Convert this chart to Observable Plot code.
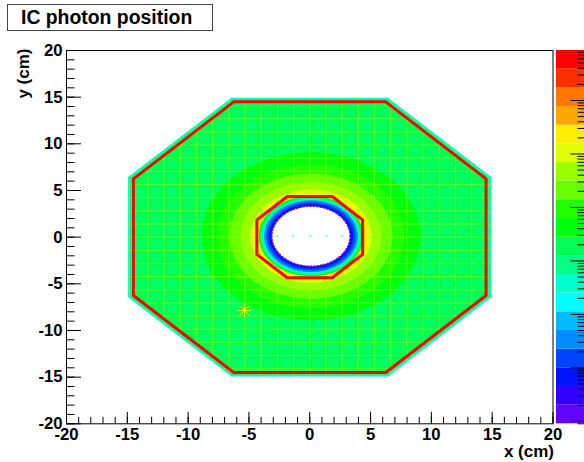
<!DOCTYPE html>
<html>
<head>
<meta charset="utf-8">
<script src="https://cdn.jsdelivr.net/npm/d3@7"></script>
<script src="https://cdn.jsdelivr.net/npm/@observablehq/plot@0.6"></script>
<style>
  html, body { margin: 0; padding: 0; background: #fff; }
  #wrap { position: relative; width: 584px; height: 462px; overflow: hidden;
          font-family: "Liberation Sans", Arial, Helvetica, sans-serif; }
  #wrap > svg.main { position: absolute; left: 0; top: 0; }
  #wrap > svg.palette { position: absolute; left: 556px; top: 0; z-index: 1; }
  #title { position: absolute; left: 7px; top: 4px; width: 206px; height: 27px; z-index: 2;
           box-sizing: border-box; border: 1px solid #444; background: #fff;
           font-weight: bold; font-size: 19.4px; line-height: 24px; padding-left: 13px; white-space: nowrap; }
</style>
</head>
<body>
<div id="wrap"><div id="title">IC photon position</div></div>
<script>
// ---------- z palette: 20 log-spaced contour bands, violet (low) to red (high)
const zMin = 0.9, zMax = 8.6e6, nBands = 20;
const bandHues = [263.2, 252, 235.2, 224, 207.2, 196, 179.2, 168, 151.2, 140,
                  123.2, 112, 95.2, 84, 67.2, 56, 39.2, 28, 11.2, 0];

// ---------- detector outlines (cm)
const outerApothem = 14.5, outerHalfSide = 6.25;
const innerApothem = 4.35, innerHalfSide = 1.85;

// ---------- photon counts per bin
// outer rim, painted from the outside in: octagon scale and counts
const rimScale  = [1.03, 1.02, 1.01];
const rimCounts = [400, 850, 1900];

// crystal faces: counts along the face diagonals
const crystalDiagCounts = 850;

// halo around the beam hole, painted from the outside in: radius (cm) and counts
const haloRadius = [9.0, 7.7, 6.7, 5.8, 5.0, 4.55];
const haloCounts = [4200, 9300, 21000, 46000, 100000, 230000];

// steep fall-off towards the hole: radius (cm) and counts
const ringRadius = [4.3, 4.15, 4.0, 3.85, 3.65, 3.45];
const ringCounts = [4200, 850, 250, 50, 15, 4.5];
const holeRadius = 3.22;
const holeEdgeCounts = 1.2;
const holeCenter = [0.1, 0.1];

// crystal boundaries (cm) and their counts
const crystalPitchX = 1.33, crystalPitchY = 1.41;
const crystalEdgeCounts = 46000;

// hot crystal and sparse hits inside the hole
const hotSpotX = [-5.37], hotSpotY = [-7.86], hotSpotCounts = [100000];
const holeHitX = [-2.68, -1.37, 0.06, 1.37, 2.67];
const holeHitY = [0.1, 0.1, 0.1, 0.1, 0.1];
const holeHitCounts = [160, 160, 160, 160, 160];

// ---------- axis ticks
const xMajor = d3.range(-20, 21, 5), xMinor = d3.range(-20, 21, 1);
const yMajor = d3.range(-20, 21, 5), yMinor = d3.range(-20, 21, 1);

// ---------- derived shapes
const thresholds = d3.range(1, nBands).map(i => zMin * Math.pow(zMax / zMin, i / nBands));
const bandColors = bandHues.map(h => d3.hsl(h, 1, 0.5).formatHex());
const colorScale = {type: "threshold", domain: thresholds, range: bandColors};

function octagon(a, h, s = 1) {
  return [[h, a], [a, h], [a, -h], [h, -a], [-h, -a], [-a, -h], [-a, h], [-h, a]]
    .map(([x, y]) => ({x: x * s, y: y * s}));
}
function circle([cx, cy], r, n = 120) {
  return d3.range(n).map(i => {
    const t = 2 * Math.PI * i / n;
    return {x: cx + r * Math.cos(t), y: cy + r * Math.sin(t)};
  });
}
// crystal boundary segments inside the (scaled) outer octagon
const edgeA = outerApothem * rimScale[0], edgeH = outerHalfSide * rimScale[0];
const span = c => Math.abs(c) <= edgeH ? edgeA : edgeA + edgeH - Math.abs(c);
const inside = (x, y) => Math.abs(y) <= span(x);
const kx = Math.floor(edgeA / crystalPitchX), ky = Math.floor(edgeA / crystalPitchY);
const gridV = d3.range(-kx, kx + 1).map(k => k * crystalPitchX).map(c => ({x1: c, x2: c, y1: -span(c), y2: span(c)}));
const gridH = d3.range(-ky, ky + 1).map(k => k * crystalPitchY).map(c => ({y1: c, y2: c, x1: -span(c), x2: span(c)}));
// face diagonals of every crystal lying fully inside the outline
const diagonals = [];
for (let i = -kx; i < kx; ++i) for (let j = -ky; j < ky; ++j) {
  const xa = i * crystalPitchX, xb = xa + crystalPitchX, ya = j * crystalPitchY, yb = ya + crystalPitchY;
  if (![[xa, ya], [xa, yb], [xb, ya], [xb, yb]].every(([x, y]) => inside(x, y))) continue;
  const ix = 0.22 * crystalPitchX, iy = 0.22 * crystalPitchY;
  diagonals.push({x1: xa + ix, y1: ya + iy, x2: xb - ix, y2: yb - iy});
  diagonals.push({x1: xa + ix, y1: yb - iy, x2: xb - ix, y2: ya + iy});
}

const fillLayer = (pts, z) => Plot.line(pts, {x: "x", y: "y", fill: () => z, stroke: null, curve: "linear-closed"});

const W = 584, H = 462, mL = 66, mR = 31.5, mT = 50, mB = 38.7;
const frameW = W - mL - mR, frameH = H - mT - mB;

const chart = Plot.plot({
  width: W, height: H,
  marginLeft: mL, marginRight: mR, marginTop: mT, marginBottom: mB,
  x: {domain: [-20, 20]},
  y: {domain: [-20, 20]},
  color: colorScale,
  style: {fontFamily: "'Liberation Sans', Arial, Helvetica, sans-serif", fontSize: "16.7px",
          fontWeight: "bold", color: "black", background: "white", overflow: "visible"},
  marks: [
    ...rimScale.map((s, i) => fillLayer(octagon(outerApothem, outerHalfSide, s), rimCounts[i])),
    Plot.link(diagonals, {x1: "x1", y1: "y1", x2: "x2", y2: "y2",
      stroke: () => crystalDiagCounts, strokeWidth: 2, strokeOpacity: 0.45}),
    ...haloRadius.map((r, i) => fillLayer(circle(holeCenter, r), haloCounts[i])),
    Plot.link([...gridV, ...gridH], {x1: "x1", y1: "y1", x2: "x2", y2: "y2",
      stroke: () => crystalEdgeCounts, strokeWidth: 1.3, strokeOpacity: 0.45}),
    ...ringRadius.map((r, i) => fillLayer(circle(holeCenter, r), ringCounts[i])),
    Plot.line(circle(holeCenter, holeRadius), {x: "x", y: "y", fill: "white",
      stroke: () => holeEdgeCounts, strokeWidth: 1.5, strokeDasharray: "1.2,2.2", curve: "linear-closed"}),
    Plot.dot(holeHitX, {x: d => d, y: (d, i) => holeHitY[i], r: 1.2, fill: (d, i) => holeHitCounts[i], fillOpacity: 0.5}),
    Plot.dot(hotSpotX, {x: d => d, y: (d, i) => hotSpotY[i], symbol: "plus", r: 4.5,
      stroke: (d, i) => hotSpotCounts[i], strokeWidth: 1}),
    Plot.dot(hotSpotX, {x: d => d, y: (d, i) => hotSpotY[i], symbol: "times", r: 4.5,
      stroke: (d, i) => hotSpotCounts[i], strokeWidth: 1}),
    Plot.line(octagon(outerApothem, outerHalfSide), {x: "x", y: "y", stroke: "#ff0000", strokeWidth: 3, curve: "linear-closed"}),
    Plot.line(octagon(innerApothem, innerHalfSide), {x: "x", y: "y", stroke: "#ff0000", strokeWidth: 3, curve: "linear-closed"}),
    Plot.frame({stroke: "black", strokeWidth: 1}),
    Plot.tickX(xMinor, {x: d => d, insetTop: frameH - 6.5, stroke: "black"}),
    Plot.tickX(xMajor, {x: d => d, insetTop: frameH - 11.5, stroke: "black"}),
    Plot.tickY(yMinor, {y: d => d, insetRight: frameW - 8.5, stroke: "black"}),
    Plot.tickY(yMajor, {y: d => d, insetRight: frameW - 15, stroke: "black"}),
    Plot.axisX({ticks: xMajor, tickSize: 0, tickPadding: 4, tickFormat: d => `${d}`, label: null}),
    Plot.axisY({ticks: yMajor, tickSize: 0, tickPadding: 4, tickFormat: d => `${d}`, label: null}),
    Plot.text(["x (cm)"], {text: d => d, frameAnchor: "bottom-right", dx: 1, dy: 27.5,
      textAnchor: "end", lineAnchor: "middle", fontSize: 17}),
    Plot.text(["y (cm)"], {text: d => d, frameAnchor: "top-left", dx: -42.6, dy: -2, rotate: -90,
      textAnchor: "end", lineAnchor: "middle", fontSize: 17})
  ]
});

// vertical z palette beside the frame, log scale with decade and sub-decade ticks
const bands = d3.range(nBands).map(i => {
  const lo = zMin * Math.pow(zMax / zMin, i / nBands), hi = zMin * Math.pow(zMax / zMin, (i + 1) / nBands);
  return {lo, hi, mid: Math.sqrt(lo * hi)};
});
const zTicks = d3.scaleLog().domain([zMin, zMax]).ticks();
const zMajor = zTicks.filter(v => Math.abs(Math.log10(v) - Math.round(Math.log10(v))) < 1e-9);
const zMinor = zTicks.filter(v => !zMajor.includes(v));
const palW = 28;
const palette = Plot.plot({
  width: palW, height: H, marginLeft: 0, marginRight: 0, marginTop: mT, marginBottom: mB,
  x: {axis: null}, y: {type: "log", domain: [zMin, zMax], axis: null},
  color: colorScale,
  style: {background: "transparent", overflow: "visible"},
  marks: [
    Plot.barY(bands, {y1: "lo", y2: "hi", fill: "mid"}),
    Plot.tickY(zMinor, {y: d => d, insetLeft: palW - 6.5, stroke: "black"}),
    Plot.tickY(zMajor, {y: d => d, insetLeft: palW - 13.5, stroke: "black"})
  ]
});

const wrap = document.getElementById("wrap");
chart.classList.add("main");
palette.classList.add("palette");
wrap.insertBefore(chart, wrap.firstChild);
wrap.appendChild(palette);
</script>
</body>
</html>
